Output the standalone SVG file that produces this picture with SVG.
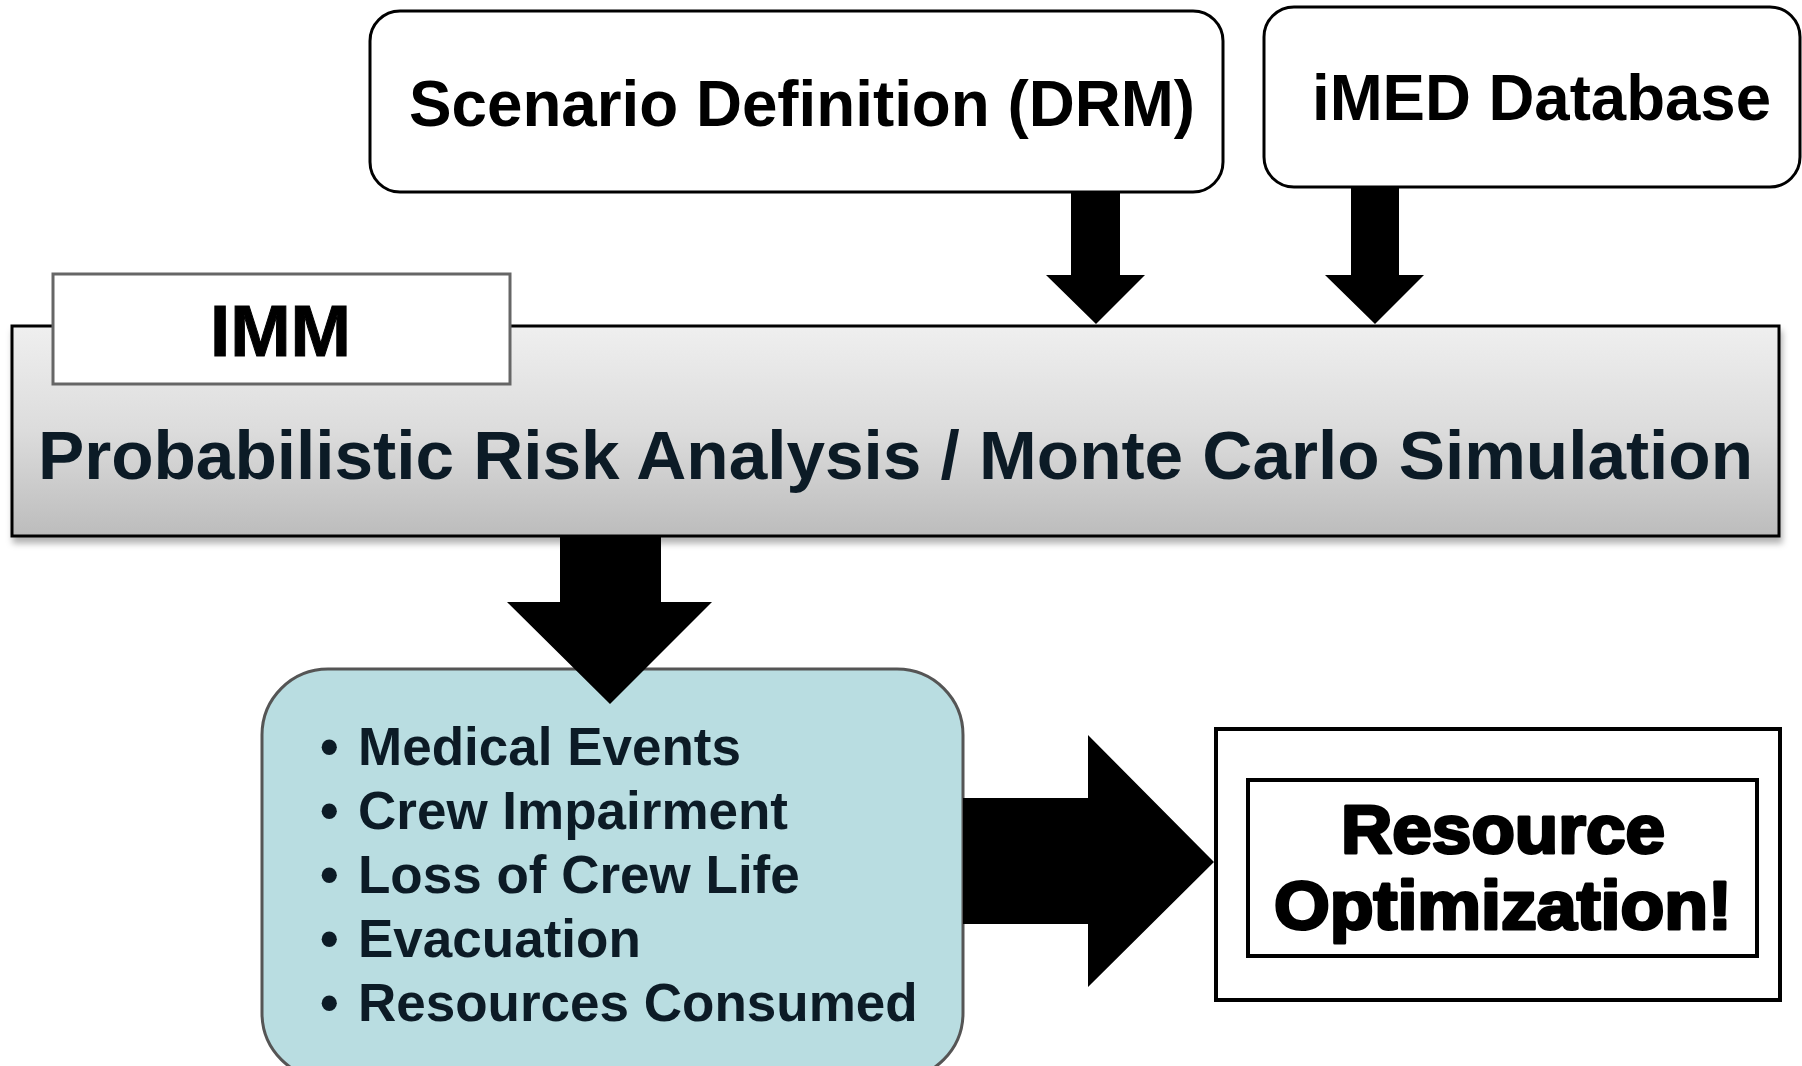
<svg xmlns="http://www.w3.org/2000/svg" width="1802" height="1066" viewBox="0 0 1802 1066">
  <style>
    .lbl { font-family: "Liberation Sans", Arial, sans-serif; font-weight: bold; }
    .dark { fill: #0c1b26; }
    .blk { fill: #000; }
    .arrow { fill: #000; stroke: none; }
  </style>
  <defs>
    <linearGradient id="barGrad" x1="0" y1="0" x2="0" y2="1">
      <stop offset="0" stop-color="#efefef"/>
      <stop offset="0.5" stop-color="#dcdcdc"/>
      <stop offset="1" stop-color="#bcbcbc"/>
    </linearGradient>
    <filter id="shadow" x="-5%" y="-10%" width="110%" height="130%">
      <feDropShadow dx="2" dy="6" stdDeviation="3" flood-color="#000" flood-opacity="0.3"/>
    </filter>
  </defs>
  <rect width="1802" height="1066" fill="#fff"/>

  <g id="scenario">
    <rect x="370" y="11" width="853" height="181" rx="30" fill="#fff" stroke="#000" stroke-width="3"/>
    <text class="lbl blk" x="409" y="126" font-size="64" textLength="786" lengthAdjust="spacingAndGlyphs">Scenario Definition (DRM)</text>
  </g>

  <g id="imed">
    <rect x="1264" y="7" width="536" height="180" rx="30" fill="#fff" stroke="#000" stroke-width="3"/>
    <text class="lbl blk" x="1312" y="120" font-size="64" textLength="459" lengthAdjust="spacingAndGlyphs">iMED Database</text>
  </g>

  <g id="prasim">
    <rect x="12" y="326" width="1767" height="210" fill="url(#barGrad)" stroke="#000" stroke-width="3" filter="url(#shadow)"/>
    <text class="lbl dark" x="38" y="479" font-size="69" textLength="1715" lengthAdjust="spacingAndGlyphs">Probabilistic Risk Analysis / Monte Carlo Simulation</text>
  </g>

  <g id="imm">
    <rect x="53" y="274" width="457" height="110" fill="#fff" stroke="#666" stroke-width="3"/>
    <text class="lbl blk" x="210" y="356" font-size="72" stroke="#000" stroke-width="1" textLength="141" lengthAdjust="spacingAndGlyphs">IMM</text>
  </g>

  <g id="outcomes">
    <rect x="262" y="669" width="701" height="410" rx="66" fill="#b9dde1" stroke="#555" stroke-width="3"/>
    <g class="lbl dark" font-size="53">
      <text x="320" y="765">•</text><text x="358" y="765">Medical Events</text>
      <text x="320" y="829">•</text><text x="358" y="829">Crew Impairment</text>
      <text x="320" y="893">•</text><text x="358" y="893">Loss of Crew Life</text>
      <text x="320" y="957">•</text><text x="358" y="957">Evacuation</text>
      <text x="320" y="1021">•</text><text x="358" y="1021">Resources Consumed</text>
    </g>
  </g>

  <g id="resource">
    <rect x="1216" y="729" width="564" height="271" fill="#fff" stroke="#000" stroke-width="4"/>
    <rect x="1248" y="780" width="509" height="176" fill="#fff" stroke="#000" stroke-width="4"/>
    <text class="lbl blk" x="1503" y="853" font-size="68" text-anchor="middle" stroke="#000" stroke-width="3" stroke-linejoin="round" textLength="324" lengthAdjust="spacingAndGlyphs">Resource</text>
    <text class="lbl blk" x="1503" y="929" font-size="68" text-anchor="middle" stroke="#000" stroke-width="3" stroke-linejoin="round" textLength="458" lengthAdjust="spacingAndGlyphs">Optimization!</text>
  </g>

  <g id="connectors">
    <polygon class="arrow" points="1071,192 1120,192 1120,275 1145,275 1096,324 1046,275 1071,275"/>
    <polygon class="arrow" points="1351,187 1399,187 1399,275 1424,275 1375,324 1325,275 1351,275"/>
    <polygon class="arrow" points="560,537 661,537 661,602 712,602 610,704 507,602 560,602"/>
    <polygon class="arrow" points="963,798 1088,798 1088,735 1214,862 1088,987 1088,924 963,924"/>
  </g>
</svg>
